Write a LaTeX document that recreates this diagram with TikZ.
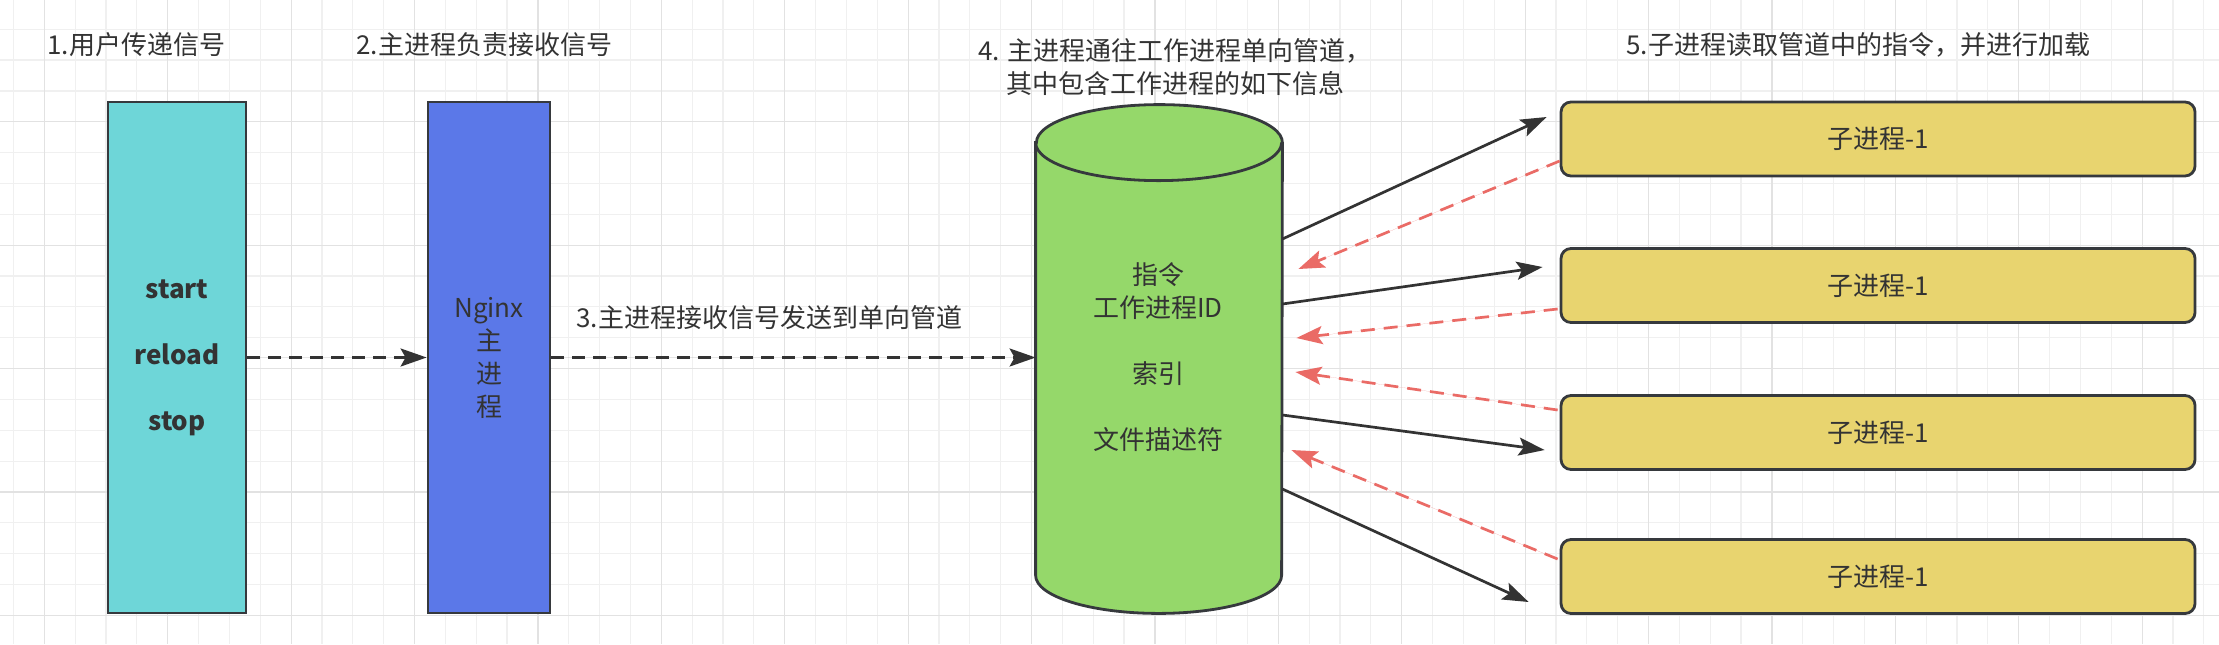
\documentclass[tikz,border=0pt]{standalone}
\usepackage{fontspec}
\setmainfont{Noto Sans CJK SC}
\usetikzlibrary{arrows.meta,calc}
\definecolor{cyanbox}{RGB}{110,214,216}
\definecolor{bluebox}{RGB}{91,120,232}
\definecolor{greenbox}{RGB}{149,216,106}
\definecolor{yellowbox}{RGB}{232,212,111}
\definecolor{strokec}{RGB}{54,57,61}
\definecolor{textc}{RGB}{51,51,51}
\definecolor{redline}{RGB}{234,107,102}
\definecolor{gridminor}{RGB}{240,240,240}
\definecolor{gridmajor}{RGB}{226,226,226}
\begin{document}
\begin{tikzpicture}[x=0.5pt,y=-0.5pt,
  txt/.style={text=textc, font=\fontsize{13}{16.5}\selectfont, align=center, inner sep=0pt},
  boxnode/.style={draw=strokec, line width=1.4pt, txt},
  workbox/.style={boxnode, fill=yellowbox, rounded corners=5pt, minimum width=317pt, minimum height=37pt},
  tipstyle/.style={-{Stealth[length=13pt,width=9pt,inset=2.5pt]}},
  darrow/.style={tipstyle, draw=textc, fill=textc, line width=1.35pt, dash pattern=on 6.5pt off 4pt},
  sarrow/.style={tipstyle, draw=textc, fill=textc, line width=1.35pt},
  rarrow/.style={tipstyle, draw=redline, fill=redline, line width=1.35pt, dash pattern=on 7pt off 4.5pt}
]
\useasboundingbox (0,0) rectangle (2219,644);
\fill[white] (0,0) rectangle (2219,644);
% grid
\foreach \i in {0,...,71} {
  \pgfmathsetmacro\gx{13.45+30.85*\i}
  \draw[gridminor, line width=0.6pt] (\gx,0) -- (\gx,644);
}
\foreach \j in {0,...,21} {
  \pgfmathsetmacro\gy{-1.65+30.85*\j}
  \draw[gridminor, line width=0.6pt] (0,\gy) -- (2219,\gy);
}
\foreach \i in {0,...,17} {
  \pgfmathsetmacro\gx{44.3+123.4*\i}
  \draw[gridmajor, line width=0.6pt] (\gx,0) -- (\gx,644);
}
\foreach \j in {0,...,5} {
  \pgfmathsetmacro\gy{-1.65+123.4*\j}
  \draw[gridmajor, line width=0.6pt] (0,\gy) -- (2219,\gy);
}

% titles
\node[txt, anchor=west] (t1) at (47,45) {1.用户传递信号};
\node[txt, anchor=west] (t2) at (356,45) {2.主进程负责接收信号};
\node[txt] (t4) at (1175,67.5) {4. 主进程通往工作进程单向管道，\\其中包含工作进程的如下信息};
\node[txt, anchor=west] (t5) at (1626,45) {5.子进程读取管道中的指令，并进行加载};

% boxes
\node[boxnode, fill=cyanbox, minimum width=69pt, minimum height=255.5pt, font=\fontsize{13}{16.5}\selectfont\bfseries] (usr) at (177,357.5) {start\\[16.5pt]reload\\[16.5pt]stop};
\node[boxnode, fill=bluebox, minimum width=61pt, minimum height=255.5pt] (mst) at (489,357.5) {Nginx\\主\\进\\程};

% cylinder
\node[minimum width=123pt, minimum height=254pt, inner sep=0pt] (cyl) at (1159,359) {};
\filldraw[fill=greenbox, draw=strokec, line width=1.4pt]
  ($(cyl.north west)+(0,38)$) -- ($(cyl.south west)+(0,-38)$)
  arc[start angle=180, end angle=360, x radius=61.5pt, y radius=19pt]
  -- ($(cyl.north east)+(0,38)$)
  arc[start angle=0, end angle=180, x radius=61.5pt, y radius=19pt] -- cycle;
\draw[draw=strokec, line width=1.4pt] ($(cyl.north west)+(0,38)$)
  arc[start angle=180, end angle=360, x radius=61.5pt, y radius=19pt];
\node[txt] (cyltxt) at (1158,357.5) {指令\\工作进程ID\\[16.5pt]索引\\[16.5pt]文件描述符};

% worker boxes
\node[workbox] (w1) at (1878,139) {子进程-1};
\node[workbox] (w2) at (1878,285.5) {子进程-1};
\node[workbox] (w3) at (1878,432.5) {子进程-1};
\node[workbox] (w4) at (1878,576.5) {子进程-1};

% label 3
\node[txt, anchor=west] (l3) at (576,318) {3.主进程接收信号发送到单向管道};

% dashed arrows
\draw[darrow] (usr.east) -- (mst.west);
\draw[darrow] (mst.east) -- (mst.east -| cyl.west);

% black arrows cylinder -> workers
\draw[sarrow] ($(cyl.east)+(0,-120)$) -- ($(w1.west)+(-13,-22)$);
\draw[sarrow] ($(cyl.east)+(0,-55)$) -- ($(w2.west)+(-17,-18.5)$);
\draw[sarrow] ($(cyl.east)+(0,56)$) -- ($(w3.west)+(-15,17.5)$);
\draw[sarrow] ($(cyl.east)+(0,130)$) -- ($(w4.west)+(-31,25.5)$);

% red dashed arrows workers -> cylinder
\draw[rarrow] ($(w1.west)+(0,22)$) -- ($(cyl.east)+(16,-90)$);
\draw[rarrow] ($(w2.west)+(-2,23.5)$) -- ($(cyl.east)+(14,-21)$);
\draw[rarrow] ($(w3.west)+(-2,-22.5)$) -- ($(cyl.east)+(13,13)$);
\draw[rarrow] ($(w4.west)+(-2,-17.5)$) -- ($(cyl.east)+(9,91)$);
\end{tikzpicture}
\end{document}
